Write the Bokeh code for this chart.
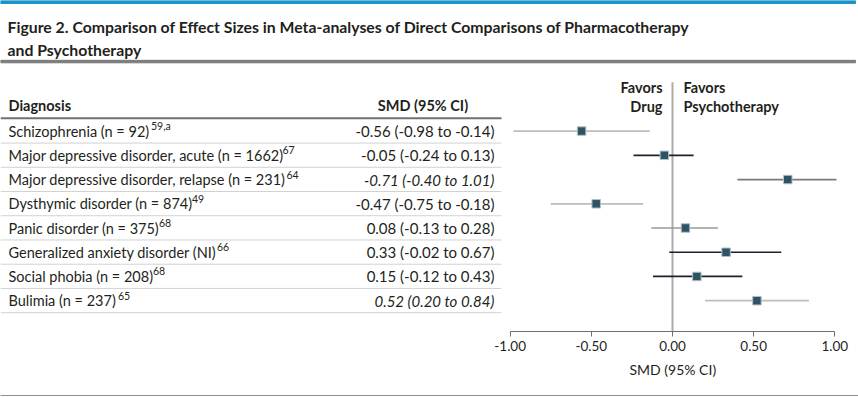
from bokeh.plotting import figure
from bokeh.models import (ColumnDataSource, Range1d, FixedTicker, NumeralTickFormatter,
                          Title, LinearAxis)
from bokeh.core.properties import value, field
from bokeh.embed import file_html
from bokeh.resources import INLINE

# ---------------- data ----------------
title_lines = [
    "Figure 2. Comparison of Effect Sizes in Meta-analyses of Direct Comparisons of Pharmacotherapy",
    "and Psychotherapy",
]
diagnoses = [
    "Schizophrenia (n = 92)",
    "Major depressive disorder, acute (n = 1662)",
    "Major depressive disorder, relapse (n = 231)",
    "Dysthymic disorder (n = 874)",
    "Panic disorder (n = 375)",
    "Generalized anxiety disorder (NI)",
    "Social phobia (n = 208)",
    "Bulimia (n = 237)",
]
refs = ["59,a", "67", "64", "49", "68", "66", "68", "65"]
smd = [-0.56, -0.05, 0.71, -0.47, 0.08, 0.33, 0.15, 0.52]
ci_low = [-0.98, -0.24, 0.40, -0.75, -0.13, -0.02, -0.12, 0.20]
ci_high = [-0.14, 0.13, 1.01, -0.18, 0.28, 0.67, 0.43, 0.84]
smd_labels = [
    "-0.56 (-0.98 to -0.14)",
    "-0.05 (-0.24 to 0.13)",
    "-0.71 (-0.40 to 1.01)",
    "-0.47 (-0.75 to -0.18)",
    "0.08 (-0.13 to 0.28)",
    "0.33 (-0.02 to 0.67)",
    "0.15 (-0.12 to 0.43)",
    "0.52 (0.20 to 0.84)",
]
italic_rows = [False, False, True, False, False, False, False, True]
x_ticks = [-1.0, -0.5, 0.0, 0.5, 1.0]
x_title = "SMD (95% CI)"

# ---------------- styles / layout ----------------
ci_colors = ["#c0bdb6", "#1f1f2e", "#7a7a7a", "#c0bdb6", "#9a9a9a", "#1f1f2e", "#1f1f2e", "#c0bdb6"]
FONT = "Lato"
TXT = "#231f20"
ROW_FS = 14.5

W, H = 858, 396
FRAME_BOTTOM = 332          # page y of the axis line
ZERO_PX = 672.0             # page x of SMD = 0
PX_PER_UNIT = 162.35


def X(page_x):
    return (page_x - ZERO_PX) / PX_PER_UNIT


ROW0, ROW_H = 131.0, 24.3
row_y = [ROW0 + ROW_H * i for i in range(len(diagnoses))]
sep_y = [y + 12 for y in row_y]
# page x where each reference superscript starts (just after the diagnosis text)
sup_px = [150.5, 282, 286, 191.5, 158.5, 216.5, 152.5, 117.5]

p = figure(
    width=W, height=H,
    x_range=Range1d(X(0), X(W)),
    y_range=Range1d(FRAME_BOTTOM, 0),
    toolbar_location=None, output_backend="svg",
    y_axis_location=None,
    min_border_left=0, min_border_right=0, min_border_top=0,
    min_border_bottom=H - FRAME_BOTTOM,
)
p.grid.visible = False
p.outline_line_color = None
p.background_fill_color = "white"
p.border_fill_color = "white"

# top bar and title
p.quad(left=[X(0)], right=[X(855)], top=[0], bottom=[3], color="#1b93c8")
p.text(x=[X(7), X(7)], y=[26, 49], text=title_lines, text_font=value(FONT),
       text_font_style="bold", text_font_size="15.8px", text_baseline="alphabetic",
       text_color=TXT)
p.quad(left=[X(0)], right=[X(855)], top=[60], bottom=[62.5], color="#7b7b7b")

# headers
p.text(x=[X(8)], y=[105], text=["Diagnosis"], text_font=value(FONT), text_font_style="bold",
       text_font_size="14.5px", text_baseline="middle", text_color=TXT)
p.text(x=[X(422.5)], y=[105], text=["SMD (95% CI)"], text_font=value(FONT), text_font_style="bold",
       text_font_size="14.5px", text_baseline="middle", text_align="center", text_color=TXT)
p.text(x=[X(662), X(662)], y=[87, 106], text=["Favors", "Drug"], text_font=value(FONT),
       text_font_style="bold", text_font_size="14.5px", text_baseline="middle", text_align="right",
       text_color=TXT)
p.text(x=[X(683), X(683)], y=[87, 106], text=["Favors", "Psychotherapy"], text_font=value(FONT),
       text_font_style="bold", text_font_size="14.5px", text_baseline="middle", text_align="left",
       text_color=TXT)

# table rules
p.segment(x0=[X(0)], x1=[X(501)], y0=[118], y1=[118], line_color="#707070", line_width=2)
p.segment(x0=[X(0)] * len(sep_y), x1=[X(501)] * len(sep_y), y0=sep_y, y1=sep_y,
          line_color="#d2d2d2", line_width=1)

src = ColumnDataSource(dict(
    y=row_y, sup_y=[y - 5 for y in row_y], diag=diagnoses, ref=refs,
    sup_x=[X(v) for v in sup_px], lab=smd_labels,
    style=["italic" if it else "normal" for it in italic_rows],
    smd=smd, lo=ci_low, hi=ci_high, col=ci_colors,
    tx=[X(8)] * len(row_y), rx=[X(494)] * len(row_y),
))

p.text(x="tx", y="y", text="diag", source=src, text_font=value(FONT),
       text_font_size=f"{ROW_FS}px", text_baseline="middle", text_color=TXT)
p.text(x="sup_x", y="sup_y", text="ref", source=src, text_font=value(FONT), text_font_size="10.5px",
       text_baseline="middle", text_color=TXT)
p.text(x="rx", y="y", text="lab", source=src, text_font=value(FONT), text_font_size="15px",
       text_font_style=field("style"), text_baseline="middle", text_align="right", text_color=TXT)

# zero line
p.segment(x0=[0], x1=[0], y0=[82], y1=[FRAME_BOTTOM], line_color="#ababab", line_width=2)

# forest
p.segment(x0="lo", x1="hi", y0="y", y1="y", source=src, line_color="col", line_width=1.7)
p.scatter(x="smd", y="y", source=src, marker="square", size=8.5, fill_color="#2d5366",
          line_color="#b7bfc3", line_width=1)

ax = p.xaxis[0]
ax.bounds = (-1, 1)
ax.ticker = FixedTicker(ticks=x_ticks)
ax.formatter = NumeralTickFormatter(format="0.00")
ax.axis_line_color = "#6e6e6e"
ax.major_tick_line_color = "#6e6e6e"
ax.major_tick_out = 5
ax.major_tick_in = 0
ax.minor_tick_line_color = None
ax.major_label_text_font = FONT
ax.major_label_text_font_size = "13.5px"
ax.major_label_text_color = TXT
ax.major_label_standoff = 4

# axis title centred on SMD = 0, as a caption under the axis
p.add_layout(Title(text=x_title, align="left", offset=ZERO_PX - 43, standoff=11,
                   text_font=FONT, text_font_size="14px", text_font_style="normal",
                   text_color=TXT), "below")
# spacer before the closing rule
p.add_layout(Title(text=" ", align="left", standoff=0, text_font=FONT,
                   text_font_size="9px"), "below")

# closing rule at the bottom of the figure
rule_axis = LinearAxis(ticker=FixedTicker(ticks=[]), axis_line_color="#231f20", axis_line_width=2,
                       major_tick_line_color=None, minor_tick_line_color=None,
                       major_label_text_font_size="0px", major_tick_out=0, major_tick_in=0,
                       major_label_standoff=0)
p.add_layout(rule_axis, "below")

open("out.html", "w").write(file_html(p, INLINE))
